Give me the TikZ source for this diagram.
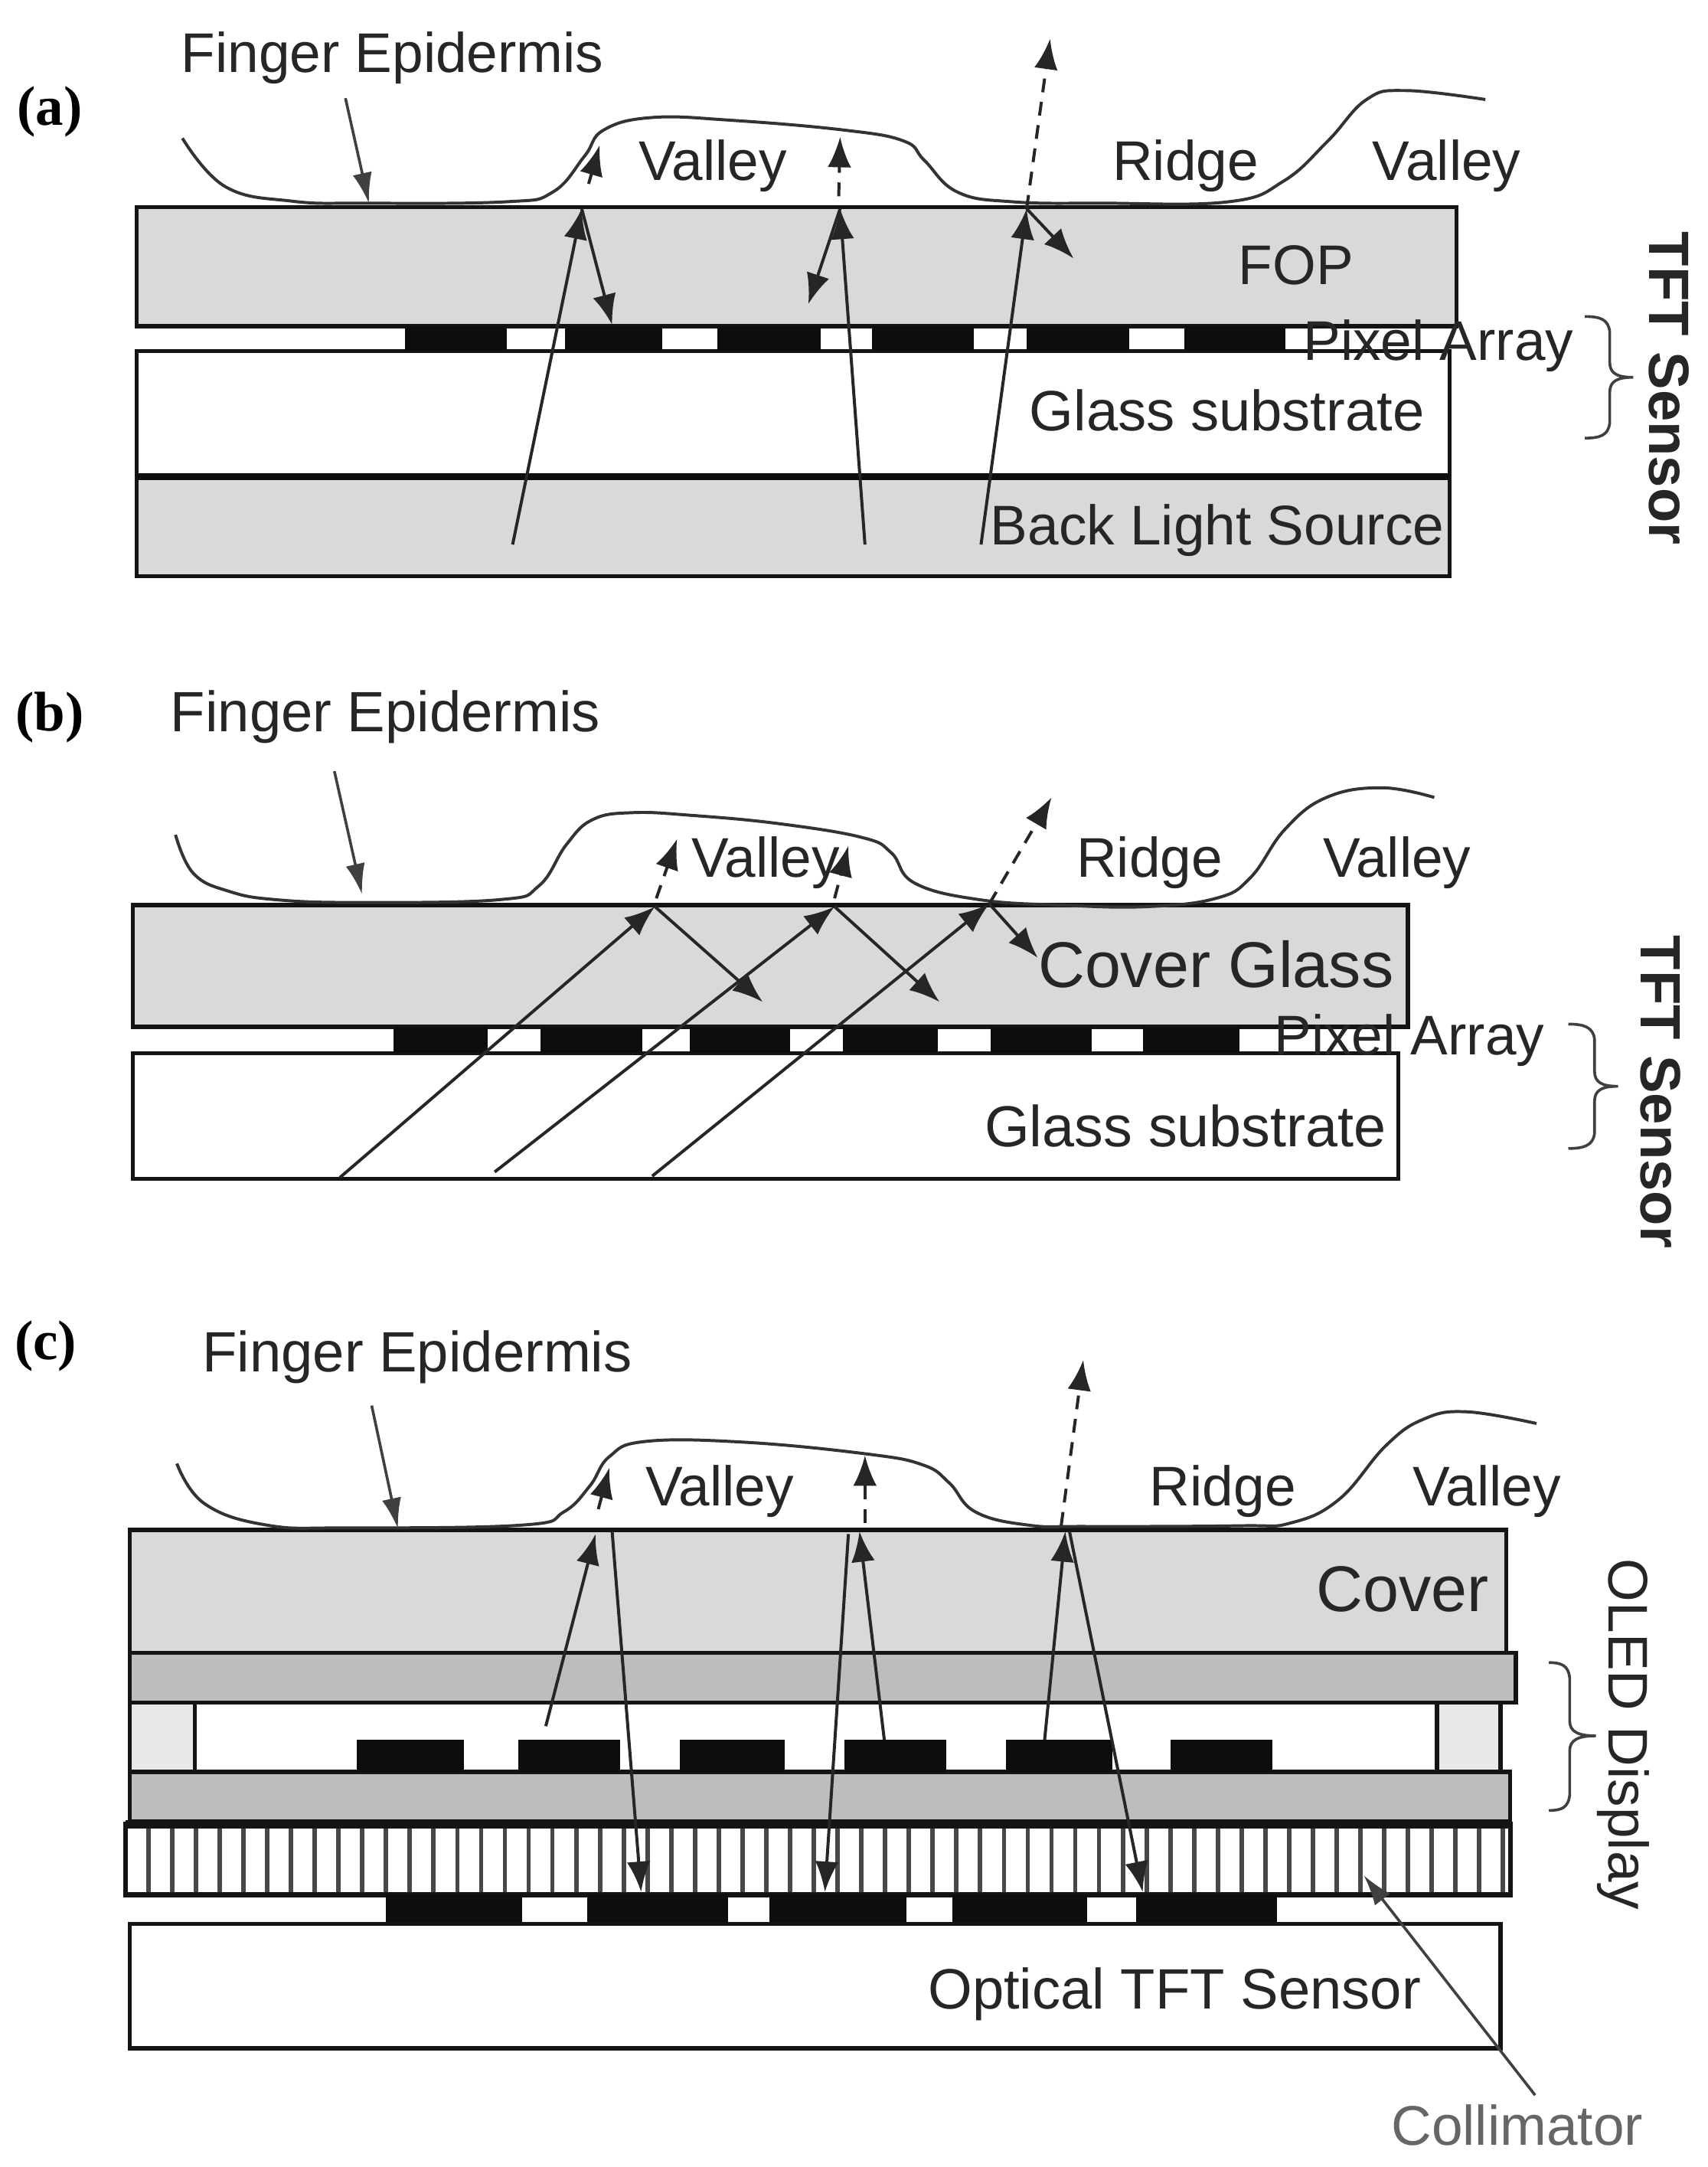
\documentclass[tikz,border=0pt]{standalone}
\usepackage{fontspec}
\setmainfont{Liberation Sans}
\newfontfamily\panelfont{Liberation Serif}
\usetikzlibrary{arrows.meta}

\tikzset{
  plate/.style={draw=black!92,line width=.03cm},
  grayplate/.style={plate,fill=black!15},
  oledplate/.style={plate,fill=black!26},
  spacer/.style={plate,fill=black!9},
  pixel/.style={fill=black!95},
  skin/.style={draw=black!80,line width=.022cm},
  ray/.style={draw=black!85,line width=.022cm,-{Latex[length=.22cm,width=.17cm]}},
  exitray/.style={ray,dash pattern=on .1cm off .07cm},
  leader/.style={draw=black!75,line width=.02cm,-{Latex[length=.22cm,width=.14cm]}},
  bracket/.style={draw=black!75,line width=.02cm},
  txt/.style={inner sep=0pt,text=black!85,font=\fontsize{11.5}{14}\selectfont},
  glasstxt/.style={txt,font=\fontsize{11.7}{14}\selectfont},
  bigtxt/.style={txt,font=\fontsize{13.3}{16}\selectfont},
  sidetxt/.style={txt,rotate=-90,font=\bfseries\fontsize{11.7}{14}\selectfont},
  paneltxt/.style={inner sep=0pt,font=\panelfont\bfseries\fontsize{11.5}{14}\selectfont},
}

\begin{document}
\begin{tikzpicture}[x=.01cm,y=-.01cm]
\useasboundingbox (0,0) rectangle (1236,1568);

% panel a
\fill[white] (0,0) rectangle (1236,1568);
\draw[grayplate] (99,150) rectangle (1054,236);
\draw[plate] (99,254) rectangle (1049,345);
\draw[grayplate] (99,345) rectangle (1049,417);
\draw[line width=.05cm,black!95] (99,345) -- (1049,345);
\foreach \l/\r in {293/367,409/479,519/594,631/705,743/817,857/930}
  \fill[pixel] (\l,236) rectangle (\r,254);

\draw[skin] plot[smooth,tension=.7] coordinates {(132,100) (163,135) (211,145.5) (264,147) (366,146) (400,139) (423,113) (437,94) (472,85) (529,87) (610,94) (654,102) (669,116) (693,139) (733,146) (797,147) (889,146) (929,131) (961,102) (989,72) (1017,65.5) (1075,72)};

\coordinate (a1s) at (371,394);
\coordinate (a1h) at (421,151);
\coordinate (a1r) at (443,235);
\coordinate (a1c) at (426,133);
\coordinate (a1e) at (434,105);
\coordinate (a2s) at (626,394);
\coordinate (a2h) at (608,151);
\coordinate (a2r) at (585,220);
\coordinate (a2c) at (607,142);
\coordinate (a2e) at (608,99);
\coordinate (a3s) at (710,394);
\coordinate (a3h) at (743,151);
\coordinate (a3r) at (777,187);
\coordinate (a3e) at (760,28);
\coordinate (afs) at (250,71);
\coordinate (aft) at (267,147);

\draw[ray] (a1s) -- (a1h);
\draw[ray] (a1h) -- (a1r);
\draw[exitray] (a1c) -- (a1e);
\draw[ray] (a2s) -- (a2h);
\draw[ray] (a2h) -- (a2r);
\draw[exitray] (a2c) -- (a2e);
\draw[ray] (a3s) -- (a3h);
\draw[ray] (a3h) -- (a3r);
\draw[exitray] (a3h) -- (a3e);
\draw[leader] (afs) -- (aft);
\draw[bracket] (1147,229) .. controls (1158,229) and (1164,231) .. (1165,240) -- (1165,262) .. controls (1165,270) and (1170,273) .. (1182,273) .. controls (1170,273) and (1165,276) .. (1165,284) -- (1165,306) .. controls (1164,315) and (1158,317) .. (1147,317);

\node[paneltxt] (alabel) at (36,81) {(a)};
\node[txt] (afinger) at (284,42) {Finger Epidermis};
\node[txt] (avalley) at (516,120) {Valley};
\node[txt] (aridge) at (858,120) {Ridge};
\node[txt] (avalleyb) at (1047,120) {Valley};
\node[txt] (afop) at (938,192) {FOP};
\node[txt] (apixel) at (1041,250) {Pixel Array};
\node[glasstxt] (aglass) at (888,297) {Glass substrate};
\node[txt] (aback) at (881,384) {Back Light Source};
\node[sidetxt] (atft) at (1208,281) {TFT Sensor};

%%%%%%%%%%%%%%%
% panel b
\draw[grayplate] (96,655) rectangle (1019,743);
\draw[plate] (96,762) rectangle (1012,853);
\foreach \l/\r in {285/353,391/465,499/572,610/679,717/790,827/897}
  \fill[pixel] (\l,743) rectangle (\r,762);

\draw[skin] plot[smooth,tension=.7] coordinates {(127,604) (140,632) (166,645) (200,651) (259,653) (361,651) (390,641) (410,611) (429,593) (458,588) (501,590) (564,596) (624,606) (645,617) (662,639) (709,651) (770,655) (830,656) (880,650) (905,635) (930,600) (960,577) (1000,570) (1038,577)};

\coordinate (b1s) at (246,852);
\coordinate (b1h) at (474,656);
\coordinate (b1r) at (552,725);
\coordinate (b1c) at (475,650);
\coordinate (b1e) at (490,607);
\coordinate (b2s) at (358,848);
\coordinate (b2h) at (604,656);
\coordinate (b2r) at (680,725);
\coordinate (b2c) at (604,650);
\coordinate (b2e) at (614,612);
\coordinate (b3s) at (472,851);
\coordinate (b3h) at (716,654);
\coordinate (b3r) at (751,693);
\coordinate (b3e) at (761,577);
\coordinate (bfs) at (242,558);
\coordinate (bft) at (262,647);

\draw[ray] (b1s) -- (b1h);
\draw[ray] (b1h) -- (b1r);
\draw[exitray] (b1c) -- (b1e);
\draw[ray] (b2s) -- (b2h);
\draw[ray] (b2h) -- (b2r);
\draw[exitray] (b2c) -- (b2e);
\draw[ray] (b3s) -- (b3h);
\draw[ray] (b3h) -- (b3r);
\draw[exitray] (b3h) -- (b3e);
\draw[leader] (bfs) -- (bft);
\draw[bracket] (1135,741) .. controls (1146,741) and (1153,743) .. (1154,752) -- (1154,775) .. controls (1154,783) and (1159,786) .. (1171,786) .. controls (1159,786) and (1154,789) .. (1154,797) -- (1154,820) .. controls (1153,829) and (1146,831) .. (1135,831);

\node[paneltxt] (blabel) at (36,519) {(b)};
\node[txt,font=\fontsize{11.7}{14}\selectfont] (bfinger) at (279,519) {Finger Epidermis};
\node[txt] (bvalley) at (554,624) {Valley};
\node[txt] (bridge) at (832,624) {Ridge};
\node[txt] (bvalleyb) at (1011,624) {Valley};
\node[bigtxt] (bcover) at (880,698) {Cover Glass};
\node[txt] (bpixel) at (1020,753) {Pixel Array};
\node[glasstxt,font=\fontsize{11.9}{14}\selectfont] (bglass) at (858,815) {Glass substrate};
\node[sidetxt] (btft) at (1202,790) {TFT Sensor};

%%%%%%%%%%%%%%%
% panel c
\draw[grayplate] (94,1107) rectangle (1090,1196);
\draw[oledplate] (94,1196) rectangle (1097,1232);
\draw[spacer] (94,1232) rectangle (141,1282);
\draw[spacer] (1040,1232) rectangle (1086,1282);
\draw[oledplate] (94,1282) rectangle (1093,1318);
\foreach \l/\r in {258/336,375/449,492/568,611/685,728/805,847/921}
  \fill[pixel] (\l,1259) rectangle (\r,1282);
\fill[white] (91,1320) rectangle (1093,1371);
\foreach \k in {0,...,57}
  \draw[black!72,line width=.032cm] ({107.4+17.2*\k},1320) -- ({107.4+17.2*\k},1371);
\draw[line width=.035cm,black!92] (91,1320) rectangle (1093,1371);
\draw[line width=.06cm,black!92] (91,1320) -- (1093,1320);
\foreach \l/\r in {279/378,425/527,557/656,689/787,822/924}
  \fill[pixel] (\l,1371) rectangle (\r,1392);
\draw[plate] (94,1392) rectangle (1086,1482);

\draw[skin] plot[smooth,tension=.7] coordinates {(128,1059) (148,1088) (193,1103.5) (252,1105.5) (378,1103.5) (408,1094) (427,1075) (441,1054) (467,1043) (538,1043.5) (627,1052) (668,1060) (687,1073) (706,1094) (744,1103.5) (786,1104.5) (897,1104) (934,1102) (969,1085) (1003,1046) (1030,1027) (1061,1021.5) (1112,1030)};

\coordinate (c1s) at (395,1249);
\coordinate (c1t) at (431,1110);
\coordinate (c1h) at (443,1108);
\coordinate (c1r) at (464,1369);
\coordinate (c1c) at (433,1092);
\coordinate (c1e) at (441,1062);
\coordinate (c2s) at (640,1259);
\coordinate (c2t) at (622,1108);
\coordinate (c2h) at (614,1110);
\coordinate (c2r) at (597,1369);
\coordinate (c2c) at (626,1102);
\coordinate (c2e) at (626,1053);
\coordinate (c3s) at (756,1259);
\coordinate (c3t) at (771,1108);
\coordinate (c3h) at (774,1108);
\coordinate (c3r) at (827,1369);
\coordinate (c3c) at (768,1104);
\coordinate (c3e) at (784,984);
\coordinate (cfs) at (269,1017);
\coordinate (cft) at (288,1106);
\coordinate (ccs) at (1111,1516);
\coordinate (cct) at (987,1357);

\draw[ray] (c1s) -- (c1t);
\draw[ray] (c1h) -- (c1r);
\draw[exitray] (c1c) -- (c1e);
\draw[ray] (c2s) -- (c2t);
\draw[ray] (c2h) -- (c2r);
\draw[exitray] (c2c) -- (c2e);
\draw[ray] (c3s) -- (c3t);
\draw[ray] (c3h) -- (c3r);
\draw[exitray] (c3c) -- (c3e);
\draw[leader] (cfs) -- (cft);
\draw[leader] (ccs) -- (cct);
\draw[bracket] (1121,1203) .. controls (1130,1203) and (1135,1205) .. (1136,1214) -- (1136,1245) .. controls (1136,1253) and (1142,1256) .. (1155,1256) .. controls (1142,1256) and (1136,1259) .. (1136,1267) -- (1136,1299) .. controls (1135,1308) and (1130,1310) .. (1121,1310);

\node[paneltxt] (clabel) at (33,974) {(c)};
\node[txt,font=\fontsize{11.7}{14}\selectfont] (cfinger) at (302,982) {Finger Epidermis};
\node[txt] (cvalley) at (521,1079) {Valley};
\node[txt] (cridge) at (885,1079) {Ridge};
\node[txt] (cvalleyb) at (1076,1079) {Valley};
\node[bigtxt] (ccover) at (1015,1150) {Cover};
\node[txt,font=\fontsize{11.7}{14}\selectfont] (coptical) at (850,1443) {Optical TFT Sensor};
\node[txt,text=black!60] (ccoll) at (1098,1538) {Collimator};
\node[txt,rotate=-90] (coled) at (1175,1255) {OLED Display};
\end{tikzpicture}
\end{document}
